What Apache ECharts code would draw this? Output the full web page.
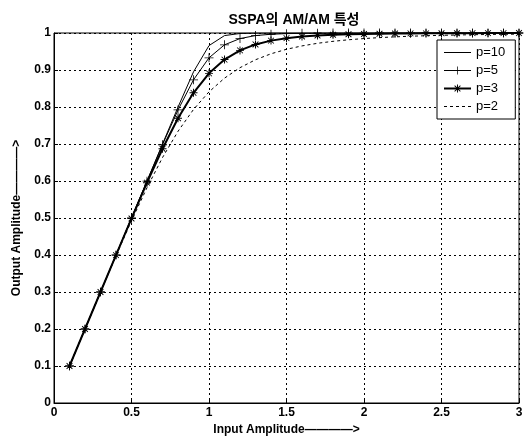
<!DOCTYPE html>
<html>
<head>
<meta charset="utf-8">
<script src="https://cdn.jsdelivr.net/npm/echarts@6/dist/echarts.min.js"></script>
<style>
html,body{margin:0;padding:0;background:#fff;}
#c{width:530px;height:441px;}
</style>
</head>
<body>
<div id="c"></div>
<script>
var titleText = 'SSPA의 AM/AM 특성';
var xName = 'Input Amplitude————>';
var yName = 'Output Amplitude————>';
var xValues = [0.1,0.2,0.3,0.4,0.5,0.6,0.7,0.8,0.9,1.0,1.1,1.2,1.3,1.4,1.5,1.6,1.7,1.8,1.9,2.0,2.1,2.2,2.3,2.4,2.5,2.6,2.7,2.8,2.9,3.0];
var p10 = [0.1,0.2,0.3,0.4,0.5,0.6,0.7,0.7995,0.895,0.966,0.993,0.9987,0.9997,1.0,1.0,1.0,1.0,1.0,1.0,1.0,1.0,1.0,1.0,1.0,1.0,1.0,1.0,1.0,1.0,1.0];
var p5 = [0.1,0.2,0.3,0.4,0.5,0.5996,0.698,0.792,0.8735,0.933,0.968,0.985,0.993,0.9966,0.9983,0.9991,0.9995,0.9997,0.9998,0.9999,1.0,1.0,1.0,1.0,1.0,1.0,1.0,1.0,1.0,1.0];
var p3 = [0.1,0.2,0.3,0.3997,0.4987,0.5955,0.6871,0.7695,0.8383,0.8909,0.9281,0.953,0.9691,0.9794,0.9861,0.9904,0.9933,0.9952,0.9965,0.9974,0.9981,0.9985,0.9989,0.9991,0.9993,0.9995,0.9996,0.9997,0.9997,0.9998];
var p2 = [0.1,0.2,0.2994,0.3975,0.4925,0.582,0.6633,0.7342,0.7934,0.8409,0.878,0.9063,0.9277,0.9438,0.956,0.9651,0.9722,0.9775,0.9817,0.985,0.9875,0.9896,0.9913,0.9926,0.9937,0.9946,0.9954,0.996,0.9965,0.9969];
var seriesNames = ['p=10','p=5','p=3','p=2'];

function pts(ys){ return xValues.map(function(x,i){ return [x, ys[i]]; }); }

var plusPath = 'path://M-0.45,-5 L0.45,-5 L0.45,-0.45 L5,-0.45 L5,0.45 L0.45,0.45 L0.45,5 L-0.45,5 L-0.45,0.45 L-5,0.45 L-5,-0.45 L-0.45,-0.45 Z';
var starPath = 'path://M-0.6,-5 L0.6,-5 L0.6,-0.6 L5,-0.6 L5,0.6 L0.6,0.6 L0.6,5 L-0.6,5 L-0.6,0.6 L-5,0.6 L-5,-0.6 L-0.6,-0.6 Z M-4,-3.2 L-3.2,-4 L4,3.2 L3.2,4 Z M3.2,-4 L4,-3.2 L-3.2,4 L-4,3.2 Z';

var font = '"Liberation Sans", Arial, "Noto Sans CJK KR", sans-serif';
var chart = echarts.init(document.getElementById('c'), null, {renderer:'canvas'});
chart.setOption({
  animation: false,
  backgroundColor: '#fff',
  textStyle: {fontFamily: font, color: '#000'},
  title: {
    text: titleText, left: 289, top: 8, textAlign: 'center',
    textStyle: {fontFamily: font, fontSize: 14, fontWeight: 'bold', color: '#000'}
  },
  legend: {
    orient: 'vertical', left: 437, top: 40,
    data: [
      {name: seriesNames[0], itemStyle: {opacity: 0}, lineStyle: {width: 1}},
      {name: seriesNames[1], lineStyle: {width: 1}},
      {name: seriesNames[2]},
      {name: seriesNames[3], itemStyle: {opacity: 0}, lineStyle: {width: 1}}
    ],
    itemWidth: 27, itemHeight: 10, itemGap: 5,
    backgroundColor: '#fff', borderColor: '#000', borderWidth: 1,
    padding: [6, 10, 6, 6],
    textStyle: {fontFamily: font, fontSize: 13, color: '#000', lineHeight: 12}
  },
  grid: {left: 54, right: 11, top: 33, bottom: 38, show: true, borderColor: '#000', borderWidth: 1, backgroundColor: '#fff', outerBoundsMode: 'none', containLabel: false},
  xAxis: {
    type: 'value', min: 0, max: 3, interval: 0.5,
    name: xName, nameLocation: 'middle', nameGap: 21,
    nameTextStyle: {fontFamily: font, fontSize: 12, fontWeight: 'bold', color: '#000'},
    axisLine: {show: true, lineStyle: {color: '#000', width: 1}},
    axisTick: {show: true, inside: true, length: 4, lineStyle: {color: '#000'}},
    axisLabel: {fontFamily: font, fontSize: 12, fontWeight: 'bold', color: '#000', margin: 4},
    splitLine: {show: true, lineStyle: {color: '#000', type: [2,3], width: 1}}
  },
  yAxis: {
    type: 'value', min: 0, max: 1, interval: 0.1,
    name: yName, nameLocation: 'middle', nameGap: 31,
    nameTextStyle: {fontFamily: font, fontSize: 12, fontWeight: 'bold', color: '#000'},
    axisLine: {show: true, lineStyle: {color: '#000', width: 1}},
    axisTick: {show: true, inside: true, length: 4, lineStyle: {color: '#000'}},
    axisLabel: {fontFamily: font, fontSize: 12, fontWeight: 'bold', color: '#000', margin: 3},
    splitLine: {show: true, lineStyle: {color: '#000', type: [2,3], width: 1}}
  },
  series: [
    {name: seriesNames[0], type: 'line', data: pts(p10), showSymbol: false, symbol: 'none',
     lineStyle: {color: '#000', width: 1}, itemStyle: {color: '#000'}},
    {name: seriesNames[1], type: 'line', data: pts(p5), symbol: plusPath, symbolSize: 9,
     lineStyle: {color: '#000', width: 1}, itemStyle: {color: '#000'}},
    {name: seriesNames[2], type: 'line', data: pts(p3), symbol: starPath, symbolSize: 8,
     lineStyle: {color: '#000', width: 2}, itemStyle: {color: '#000'}},
    {name: seriesNames[3], type: 'line', data: pts(p2), showSymbol: false, symbol: 'none',
     lineStyle: {color: '#000', width: 1, type: [3,3]}, itemStyle: {color: '#000'}}
  ]
});
</script>
</body>
</html>
